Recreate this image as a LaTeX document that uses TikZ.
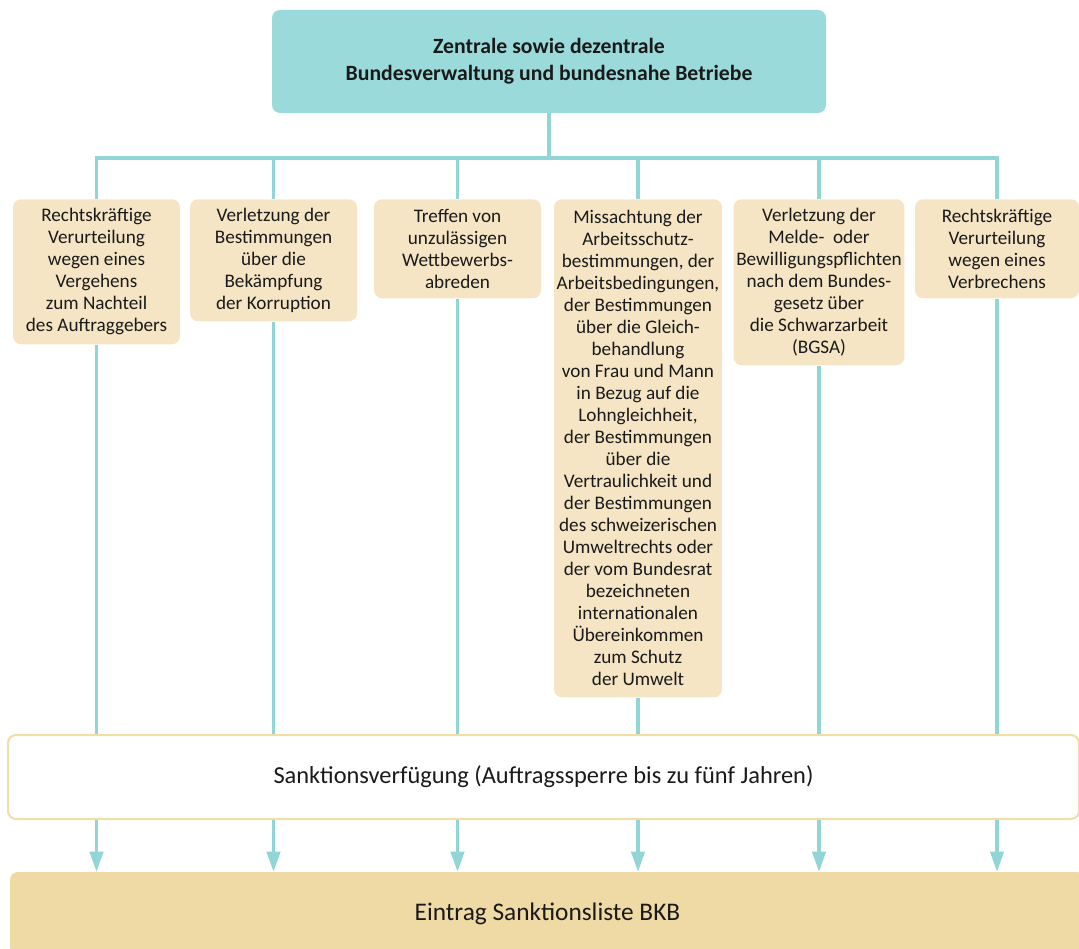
\documentclass[tikz,border=0pt]{standalone}
\usepackage{fontspec}
\setmainfont{Carlito}
\usetikzlibrary{positioning, backgrounds, arrows.meta, calc}
\usepackage{xcolor}
\definecolor{tealbox}{HTML}{9BDADB}
\definecolor{tealline}{HTML}{92D5D6}
\definecolor{sandbox}{HTML}{F6E5C5}
\definecolor{sanddark}{HTML}{EFD9A4}
\definecolor{sandline}{HTML}{F1DDA8}
\definecolor{inktext}{HTML}{1A1A1A}

\begin{document}
\begin{tikzpicture}[
        x=0.75pt, y=-0.75pt,
        text=inktext,
        % Define styles for the nodes
        head/.style={rectangle, fill=tealbox, rounded corners=6pt, minimum width=415.5pt, minimum height=77.25pt, align=center, font=\fontsize{16.3}{20}\selectfont\bfseries},
        reason/.style={rectangle, fill=sandbox, rounded corners=6pt, anchor=north, minimum width=125.25pt, inner sep=2pt, align=center, font=\fontsize{14.4}{16.5}\selectfont},
        decision/.style={rectangle, draw=sandline, line width=1.5pt, fill=white, rounded corners=6pt, minimum width=803.25pt, minimum height=63pt, align=center, font=\fontsize{18.3}{22}\selectfont},
        entry/.style={rectangle, fill=sanddark, rounded corners=6pt, minimum width=806.25pt, minimum height=62.25pt, align=center, font=\fontsize{19}{22}\selectfont},
        link/.style={draw=tealline, line width=2.3pt},
        myarrow/.style={draw=tealline, line width=2.3pt, -{Triangle[length=15pt, width=10pt]}}
    ]

        \clip (0,0) rectangle (1079,949);

        % --- Nodes ---
        \node[head] (admin) at (549,61.5) {Zentrale sowie dezentrale\\Bundesverwaltung und bundesnahe Betriebe};
        \coordinate (hub) at (549,158);

        \node[reason, minimum height=108.75pt] (verg) at (96.5,199) {Rechtskräftige\\Verurteilung\\wegen eines\\Vergehens\\zum Nachteil\\des Auftraggebers};
        \node[reason, minimum height=91.5pt] (korr) at (273.5,199) {Verletzung der\\Bestimmungen\\über die\\Bekämpfung\\der Korruption};
        \node[reason, minimum height=74.25pt] (wettb) at (457.5,199) {Treffen von\\unzulässigen\\Wettbewerbs-\\abreden};
        \node[reason, minimum width=124.5pt, minimum height=373.5pt] (arbeit) at (638,199) {Missachtung der\\Arbeitsschutz-\\bestimmungen, der\\Arbeitsbedingungen,\\der Bestimmungen\\über die Gleich-\\behandlung\\von Frau und Mann\\in Bezug auf die\\Lohngleichheit,\\der Bestimmungen\\über die\\Vertraulichkeit und\\der Bestimmungen\\des schweizerischen\\Umweltrechts oder\\der vom Bundesrat\\bezeichneten\\internationalen\\Übereinkommen\\zum Schutz\\der Umwelt};
        \node[reason, minimum width=126pt, minimum height=124.5pt] (schwarz) at (819,199) {Verletzung der\\Melde-\ \ oder\\Bewilligungspflichten\\nach dem Bundes-\\gesetz über\\die Schwarzarbeit\\(BGSA)};
        \node[reason, minimum width=123pt, minimum height=74.25pt] (verbr) at (997,199) {Rechtskräftige\\Verurteilung\\wegen eines\\Verbrechens};

        \node[decision] (sanktion) at (543.5,777) {Sanktionsverfügung (Auftragssperre bis zu fünf Jahren)};
        \node[entry] (liste) at (547.5,913.5) {Eintrag Sanktionsliste BKB};

        % --- Edges ---
        \begin{scope}[on background layer]
            \draw[link] (admin.south) -- (hub);
            \draw[link] (hub) -| (verg.north);
            \draw[link] (hub) -| (korr.north);
            \draw[link] (hub) -| (wettb.north);
            \draw[link] (hub) -| (arbeit.north);
            \draw[link] (hub) -| (schwarz.north);
            \draw[link] (hub) -| (verbr.north);

            \draw[link] (verg.south) -- (verg.south |- sanktion.north);
            \draw[link] (korr.south) -- (korr.south |- sanktion.north);
            \draw[link] (wettb.south) -- (wettb.south |- sanktion.north);
            \draw[link] (arbeit.south) -- (arbeit.south |- sanktion.north);
            \draw[link] (schwarz.south) -- (schwarz.south |- sanktion.north);
            \draw[link] (verbr.south) -- (verbr.south |- sanktion.north);
        \end{scope}

        % sanction to list
        \draw[myarrow] (verg |- sanktion.south) -- (verg |- liste.north);
        \draw[myarrow] (korr |- sanktion.south) -- (korr |- liste.north);
        \draw[myarrow] (wettb |- sanktion.south) -- (wettb |- liste.north);
        \draw[myarrow] (arbeit |- sanktion.south) -- (arbeit |- liste.north);
        \draw[myarrow] (schwarz |- sanktion.south) -- (schwarz |- liste.north);
        \draw[myarrow] (verbr |- sanktion.south) -- (verbr |- liste.north);

    \end{tikzpicture}
\end{document}
